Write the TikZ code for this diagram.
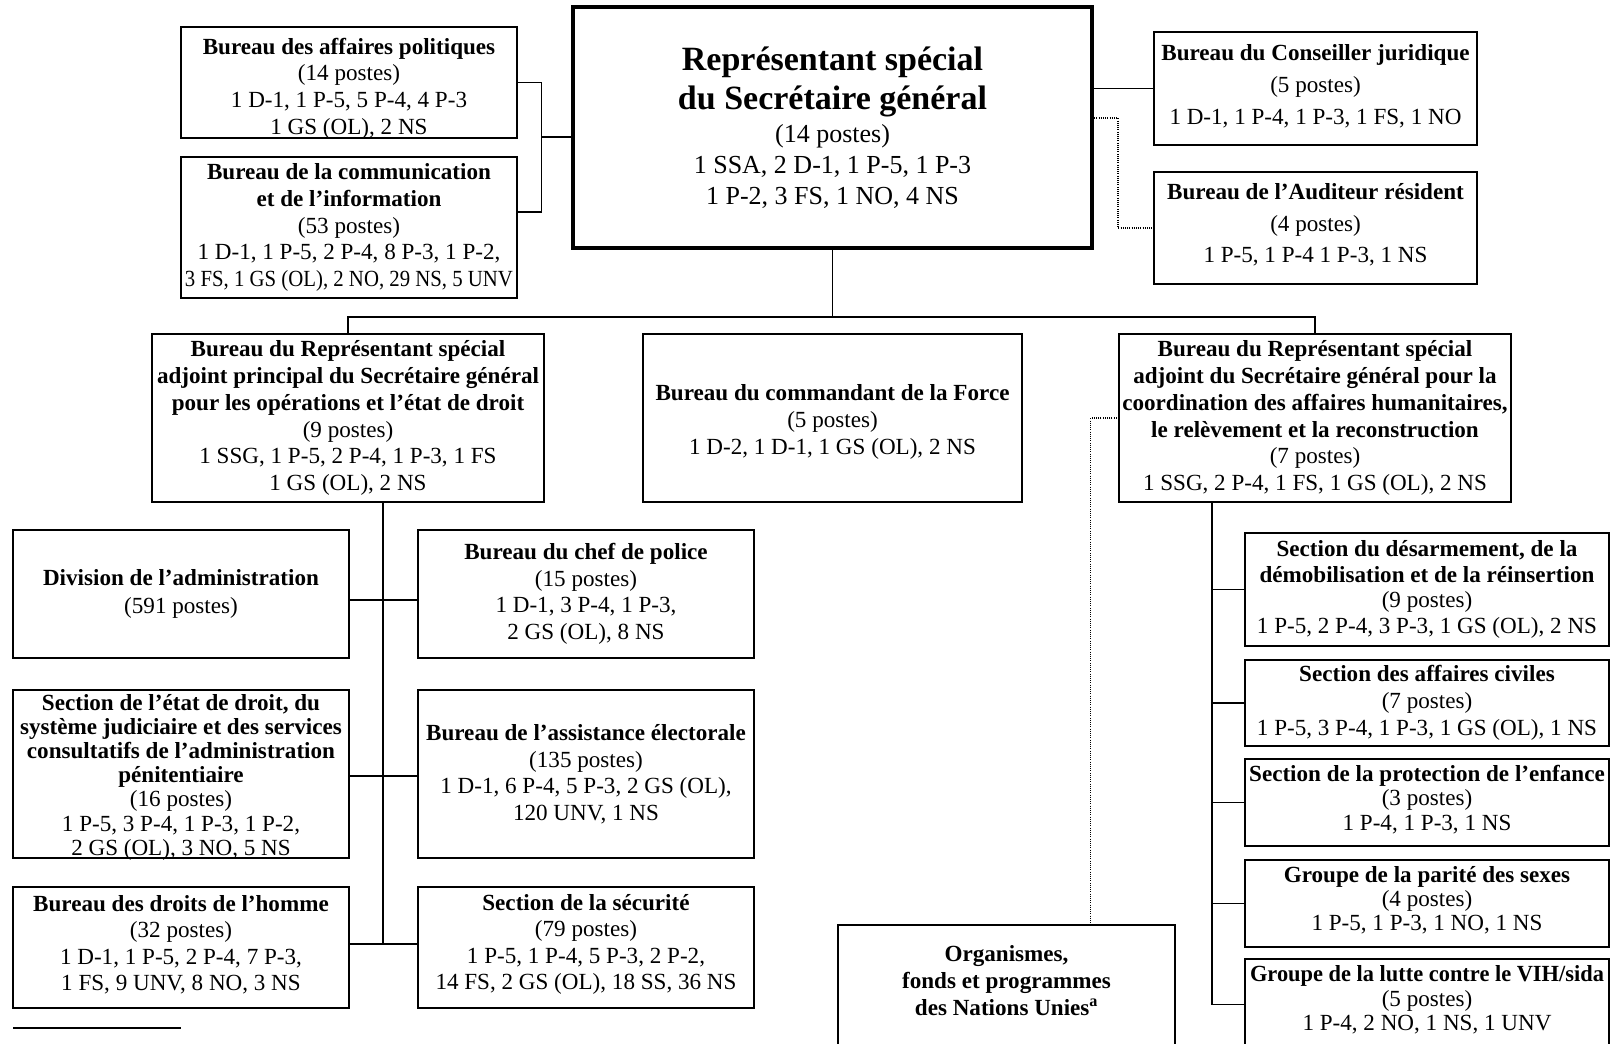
\documentclass[tikz,border=0pt]{standalone}
\usepackage{fontspec}
\setmainfont{Liberation Serif}
\usepackage{graphicx}
\usetikzlibrary{positioning}

% struts that move the text block of a box up or down
\newcommand{\topstrut}[1]{\rule{0pt}{#1pt}}
\newcommand{\botstrut}[1]{\rule[-#1pt]{0pt}{#1pt}}

\begin{document}
\begin{tikzpicture}[
  x=1pt, y=-1pt,
  box/.style={draw, line width=2pt, inner sep=0pt, outer sep=0pt, align=center,
    font=\fontsize{23.1}{26.7}\selectfont},
  boxsize/.style 2 args={minimum width=#1pt, minimum height=#2pt},
  leading/.style={font=\fontsize{23.1}{#1}\selectfont},
  chief/.style={box, line width=4.5pt, font=\fontsize{26}{31}\selectfont},
  link/.style={line width=1.2pt},
  dotlink/.style={line width=1.3pt, dash pattern=on 1pt off 1.2pt}
]
  \useasboundingbox (0,0) rectangle (1620,1044);

  % top row
  \node[chief, boxsize={519}{241}] (rssg) at (832.5,127.5)
    {{\fontsize{34}{39}\selectfont\bfseries Représentant spécial}\\[8pt]
     {\fontsize{34}{39}\selectfont\bfseries du Secrétaire général}\\[1.4pt]
     (14 postes)\\
     1 SSA, 2 D-1, 1 P-5, 1 P-3\\
     1 P-2, 3 FS, 1 NO, 4 NS};
  \node[box, boxsize={336}{111}] (polit) at (349,82.5)
    {\topstrut{23.6}\textbf{Bureau des affaires politiques}\\
     (14 postes)\\
     1 D-1, 1 P-5, 5 P-4, 4 P-3\\
     \smash{1 GS (OL), 2 NS}};
  \node[box, boxsize={336}{141}, leading=26.6, below=19pt of polit] (comm)
    {\textbf{Bureau de la communication}\\
     \textbf{et de l’information}\\
     (53 postes)\\
     1 D-1, 1 P-5, 2 P-4, 8 P-3, 1 P-2,\\
     \scalebox{0.9}[1]{3 FS, 1 GS (OL), 2 NO, 29 NS, 5 UNV}};
  \node[box, boxsize={323}{113}, leading=32] (jur) at (1315.5,88.5)
    {\textbf{Bureau du Conseiller juridique}\\
     (5 postes)\\
     1 D-1, 1 P-4, 1 P-3, 1 FS, 1 NO\botstrut{8}};
  \node[box, boxsize={323}{112}, leading=31.5, below=27pt of jur] (audit)
    {\textbf{Bureau de l’Auditeur résident}\\
     (4 postes)\\
     1 P-5, 1 P-4 1 P-3, 1 NS\botstrut{9.5}};

  % deputies and force
  \node[box, boxsize={392}{168}, leading=26.9] (adjp) at (348,418)
    {\textbf{Bureau du Représentant spécial}\\
     \textbf{adjoint principal du Secrétaire général}\\
     \textbf{pour les opérations et l’état de droit}\\
     (9 postes)\\
     1 SSG, 1 P-5, 2 P-4, 1 P-3, 1 FS\\
     1 GS (OL), 2 NS};
  \node[box, boxsize={379}{168}, leading=27] (force) at (832.5,418)
    {\topstrut{24.2}\textbf{Bureau du commandant de la Force}\\
     (5 postes)\\
     1 D-2, 1 D-1, 1 GS (OL), 2 NS};
  \node[box, boxsize={392}{168}, leading=26.9] (adjh) at (1315,418)
    {\textbf{Bureau du Représentant spécial}\\
     \textbf{adjoint du Secrétaire général pour la}\\
     \textbf{coordination des affaires humanitaires,}\\
     \textbf{le relèvement et la reconstruction}\\
     (7 postes)\\
     1 SSG, 2 P-4, 1 FS, 1 GS (OL), 2 NS};

  % operations and rule of law
  \node[box, boxsize={336}{128}, leading=28] (admin) at (181,594)
    {\textbf{Division de l’administration}\\
     (591 postes)};
  \node[box, boxsize={336}{128}, leading=26.5, right=69pt of admin] (police)
    {\textbf{Bureau du chef de police}\\
     (15 postes)\\
     1 D-1, 3 P-4, 1 P-3,\\
     2 GS (OL), 8 NS};
  \node[box, boxsize={336}{168}, leading=24.1, below=32pt of admin] (droit)
    {\topstrut{17.7}\textbf{Section de l’état de droit, du}\\
     \textbf{système judiciaire et des services}\\
     \textbf{consultatifs de l’administration}\\
     \textbf{pénitentiaire}\\
     (16 postes)\\
     1 P-5, 3 P-4, 1 P-3, 1 P-2,\\
     \smash{2 GS (OL), 3 NO, 5 NS}};
  \node[box, boxsize={336}{168}, leading=26.5, right=69pt of droit] (elect)
    {\textbf{Bureau de l’assistance électorale}\\
     (135 postes)\\
     1 D-1, 6 P-4, 5 P-3, 2 GS (OL),\\
     120 UNV, 1 NS};
  \node[box, boxsize={336}{121}, leading=26.5, below=29pt of droit] (rights)
    {\textbf{Bureau des droits de l’homme}\\
     (32 postes)\\
     1 D-1, 1 P-5, 2 P-4, 7 P-3,\\
     1 FS, 9 UNV, 8 NO, 3 NS\botstrut{9.5}};
  \node[box, boxsize={336}{121}, leading=26.5, right=69pt of rights] (secu)
    {\textbf{Section de la sécurité}\\
     (79 postes)\\
     1 P-5, 1 P-4, 5 P-3, 2 P-2,\\
     14 FS, 2 GS (OL), 18 SS, 36 NS\botstrut{11}};

  % humanitarian side
  \node[box, boxsize={337}{123}, leading=27.4] (org) at (1006.5,986.5)
    {\textbf{Organismes,}\\
     \textbf{fonds et programmes}\\
     \textbf{des Nations Unies}\textsuperscript{\textbf{a}}\botstrut{12}};
  \node[box, boxsize={364}{113}, leading=25.5] (ddr) at (1427,589.5)
    {\textbf{Section du désarmement, de la}\\
     \textbf{démobilisation et de la réinsertion}\\
     (9 postes)\\
     1 P-5, 2 P-4, 3 P-3, 1 GS (OL), 2 NS};
  \node[box, boxsize={364}{86}, leading=26.9, below=14pt of ddr] (civ)
    {\textbf{Section des affaires civiles}\\
     (7 postes)\\
     1 P-5, 3 P-4, 1 P-3, 1 GS (OL), 1 NS};
  \node[box, boxsize={364}{87}, leading=24.3, below=13pt of civ] (child)
    {\textbf{Section de la protection de l’enfance}\\
     (3 postes)\\
     1 P-4, 1 P-3, 1 NS\botstrut{9.5}};
  \node[box, boxsize={364}{87}, leading=23.8, below=14pt of child] (gender)
    {\textbf{Groupe de la parité des sexes}\\
     (4 postes)\\
     1 P-5, 1 P-3, 1 NO, 1 NS\botstrut{9.5}};
  \node[box, boxsize={364}{91}, leading=24.3, below=12pt of gender] (hiv)
    {\scalebox{0.97}[1]{\textbf{Groupe de la lutte contre le VIH/sida}}\\
     (5 postes)\\
     1 P-4, 2 NO, 1 NS, 1 UNV\botstrut{12.6}};

  % links from the chief
  \coordinate (lbus) at (541.5,137);
  \coordinate (commjoin) at (541.5,212);
  \draw[link] (polit.east) -| (commjoin) -- (commjoin -| comm.east);
  \draw[link] (lbus) -- (lbus -| rssg.west);
  \draw[link] (jur.west) -- (jur.west -| rssg.east);
  \coordinate (auditjoin) at (1118,118);
  \draw[dotlink] (auditjoin -| rssg.east) -- (auditjoin) |- (audit.west);
  \coordinate (tbus) at (832.5,317);
  \draw[link] (rssg.south) -- (tbus);
  \draw[link] (adjp.north) |- (tbus) -| (adjh.north);

  % left spine
  \coordinate (lspine) at (383,944);
  \draw[link] (lspine |- adjp.south) -- (lspine);
  \draw[link] ([yshift=-6pt]admin.east) -- ([yshift=-6pt]police.west);
  \draw[link] ([yshift=-2pt]droit.east) -- ([yshift=-2pt]elect.west);
  \draw[link] (rights.east |- lspine) -- (secu.west |- lspine);

  % right spine
  \coordinate (rspine) at (1212,0);
  \draw[link] (adjh.south -| rspine) |- (hiv.west);
  \foreach \n in {ddr,civ,child,gender}
    \draw[link] (\n.west -| rspine) -- (\n.west);
  \coordinate (orgjoin) at (1090.7,418);
  \draw[dotlink] (adjh.west) -- (orgjoin) -- (orgjoin |- org.north);

  % footnote rule
  \draw[link] (13,1028) -- (181,1028);
\end{tikzpicture}
\end{document}
